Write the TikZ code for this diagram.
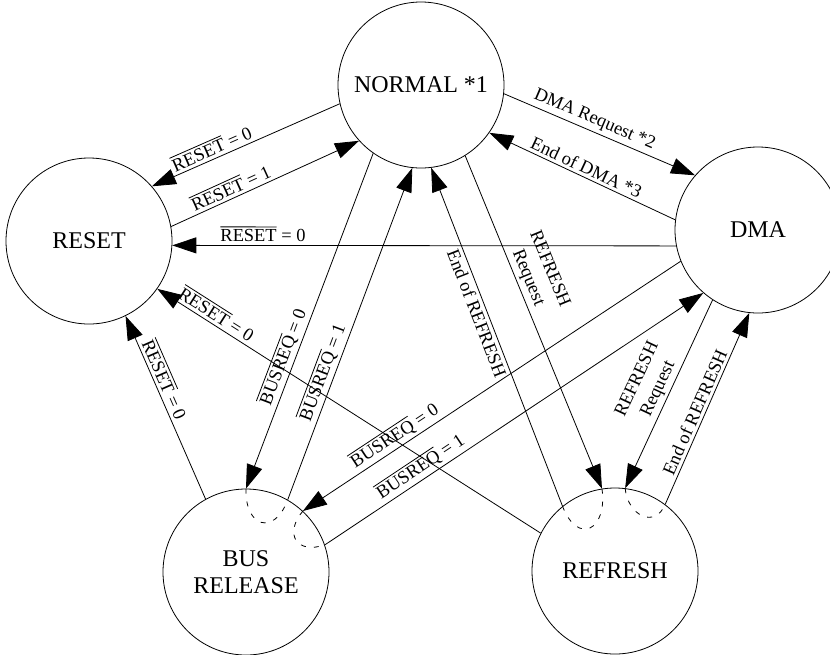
\documentclass[tikz,border=0pt]{standalone}
\usepackage{fontspec}
\setmainfont{Liberation Serif}
\usetikzlibrary{arrows.meta}
\newcommand{\ovl}[1]{$\overline{\hbox{#1}}$}

\begin{document}
\begin{tikzpicture}[x=0.5pt,y=-0.5pt,
    state/.style={draw,circle,line width=0.4pt,minimum size=83pt,inner sep=0pt,
                  align=center,font=\fontsize{12}{13.5}\selectfont},
    trans/.style={line width=0.4pt,-{Triangle[length=12pt,width=8pt]}},
    lbl/.style={sloped,inner sep=1.5pt,align=center,font=\fontsize{9.2}{11.5}\selectfont},
    thru/.style={line width=0.4pt,dash pattern=on 2.5pt off 4pt}]
  \useasboundingbox (0,0) rectangle (830,654);
  % states
  \node[state] (normal)  at (421,85)  {NORMAL *1};
  \node[state] (reset)   at (89,241)  {RESET};
  \node[state] (dma)     at (758,230) {DMA};
  \node[state] (busrel)  at (246,572) {BUS\\RELEASE};
  \node[state] (refresh) at (615,571) {REFRESH};
  % transitions to RESET
  \draw[trans] (normal.193) -- node[lbl,above,pos=0.66] {\ovl{RESET} = 0} (reset.41);
  \draw[trans] (reset.10) -- node[lbl,above,pos=0.34] {\ovl{RESET} = 1} (normal.222);
  \draw[trans] (dma.191) -- node[lbl,above,pos=0.82] {\ovl{RESET} = 0} (reset.-3);
  \draw[trans] (refresh.153) -- node[lbl,above,pos=0.86] {\ovl{RESET} = 0} (reset.-35);
  \draw[trans] (busrel.119) -- node[lbl,above,pos=0.63] {\ovl{RESET} = 0} (reset.-64);
  % NORMAL <-> DMA
  \draw[trans] (dma.173) -- node[lbl,above,pos=0.5] {End of DMA *3} (normal.-35);
  \draw[trans] (normal.-6) -- node[lbl,above,pos=0.45] {DMA Request *2} (dma.139);
  % bus release
  \draw[trans] (normal.235) -- node[lbl,above,pos=0.62] {\ovl{BUSREQ} = 0} (busrel.90);
  \draw[trans] (busrel.60) -- node[lbl,above,pos=0.37] {\ovl{BUSREQ} = 1} (normal.264);
  \draw[trans] (dma.202) -- node[lbl,above,pos=0.74] {\ovl{BUSREQ} = 0} (busrel.47);
  \draw[trans] (busrel.19) -- node[lbl,above,pos=0.27] {\ovl{BUSREQ} = 1} (dma.229);
  % refresh
  \draw[trans] (refresh.129) -- node[lbl,below,pos=0.58] {End of REFRESH} (normal.277);
  \draw[trans] (normal.-58) -- node[lbl,above,pos=0.38] {REFRESH\\Request} (refresh.99);
  \draw[trans] (dma.237) -- node[lbl,above,pos=0.5] {REFRESH\\Request} (refresh.83);
  \draw[trans] (refresh.53) -- node[lbl,above,pos=0.46] {End of REFRESH} (dma.264);
  % paths through the states
  \draw[thru] (busrel.90) to[out=-92,in=-110,looseness=2.3] (busrel.60);
  \draw[thru] (busrel.47) to[out=230,in=199,looseness=1.9] (busrel.19);
  \draw[thru] (refresh.99) to[out=-82,in=-69,looseness=2.5] (refresh.129);
  \draw[thru] (refresh.83) to[out=-85,in=-113,looseness=1.6] (refresh.53);
\end{tikzpicture}
\end{document}
